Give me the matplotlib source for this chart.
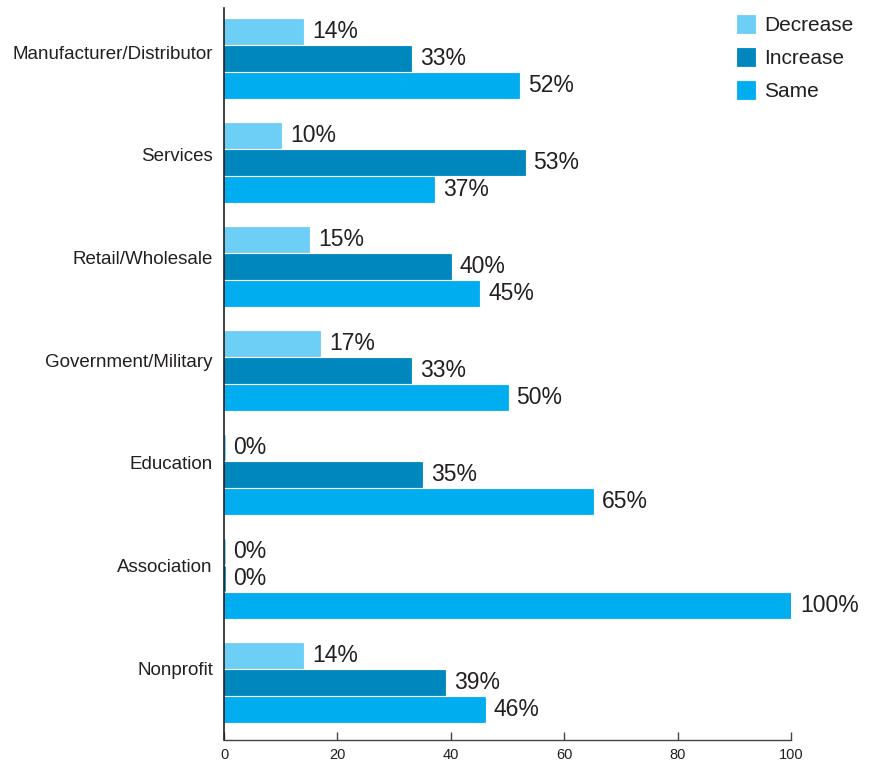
import matplotlib.pyplot as plt
import numpy as np

plt.rcParams['font.family'] = ['Liberation Sans', 'DejaVu Sans']

categories = ["Manufacturer/Distributor", "Services", "Retail/Wholesale",
              "Government/Military", "Education", "Association", "Nonprofit"]
decrease = [14, 10, 15, 17, 0, 0, 14]
increase = [33, 53, 40, 33, 35, 0, 39]
same = [52, 37, 45, 50, 65, 100, 46]
series_names = ["Decrease", "Increase", "Same"]
colors = ["#6dcff6", "#0087be", "#00aeef"]
xticks = [0, 20, 40, 60, 80, 100]

fig = plt.figure(figsize=(8.72, 7.61), dpi=100)
ax = fig.add_axes([224 / 872, 21 / 761, (791 - 224) / 872, (753 - 21) / 761])

group_gap = 104.0
bar_pitch = 27.0
bar_h = 25.0
idx = np.arange(len(categories))
centers = 58.5 + group_gap * idx
label_pos = 52.0 + 102.7 * idx

text_color = "#231f20"
for k, (name, vals, col) in enumerate(zip(series_names, [decrease, increase, same], colors)):
    ypos = centers + (k - 1) * bar_pitch
    lw = [2.0 if v == 0 else 0.6 for v in vals]
    ax.barh(ypos, vals, height=bar_h, color=col, edgecolor=col, linewidth=lw, label=name)
    for y, v in zip(ypos, vals):
        ax.text(v + 1.6, y, f"{v}%", va="center", ha="left", fontsize=16.5, color=text_color)

ax.set_xlim(0, 100)
ax.set_ylim(740, 8)
ax.set_yticks(label_pos)
ax.set_yticklabels(categories, fontsize=13.5, color=text_color)
ax.tick_params(axis="y", length=0, pad=8)
ax.set_xticks(xticks)
ax.set_xticklabels([str(t) for t in xticks], fontsize=10.5, color=text_color)
ax.tick_params(axis="x", direction="in", length=6, width=1, color="#444444", pad=6)

for s in ["top", "right"]:
    ax.spines[s].set_visible(False)
ax.spines["left"].set_color("#231f20")
ax.spines["left"].set_linewidth(1.2)
ax.spines["bottom"].set_color("#444444")
ax.spines["bottom"].set_linewidth(1)

leg = ax.legend(loc="upper left", bbox_to_anchor=(505 / 567, 1.002), frameon=False,
                fontsize=15, handlelength=0.85, handleheight=0.95, handletextpad=0.45,
                labelspacing=0.62, borderaxespad=0)
for t in leg.get_texts():
    t.set_color(text_color)

fig.savefig("out.png", dpi=100)
